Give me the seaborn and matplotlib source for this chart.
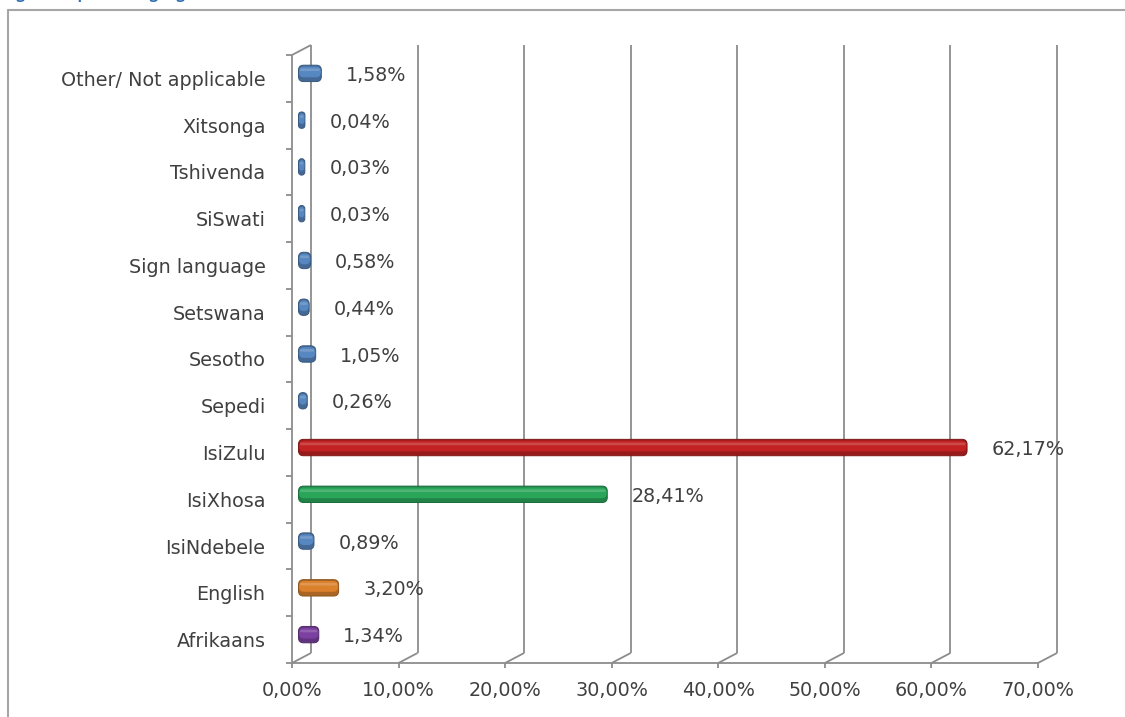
import matplotlib
matplotlib.use("Agg")
import matplotlib.pyplot as plt
from matplotlib.patches import FancyBboxPatch
from matplotlib.lines import Line2D
import seaborn as sns
import pandas as pd

# ---- data -------------------------------------------------------------
languages = ["Other/ Not applicable", "Xitsonga", "Tshivenda", "SiSwati",
             "Sign language", "Setswana", "Sesotho", "Sepedi", "IsiZulu",
             "IsiXhosa", "IsiNdebele", "English", "Afrikaans"]
shares = [1.58, 0.04, 0.03, 0.03, 0.58, 0.44, 1.05, 0.26, 62.17, 28.41,
          0.89, 3.20, 1.34]
value_labels = ["1,58%", "0,04%", "0,03%", "0,03%", "0,58%", "0,44%",
                "1,05%", "0,26%", "62,17%", "28,41%", "0,89%", "3,20%",
                "1,34%"]
tick_values = [0, 10, 20, 30, 40, 50, 60, 70]
tick_labels = ["0,00%", "10,00%", "20,00%", "30,00%", "40,00%", "50,00%",
               "60,00%", "70,00%"]
bar_colors = ["#4585d2", "#4585d2", "#4585d2", "#4585d2", "#4585d2",
              "#4585d2", "#4585d2", "#4585d2", "#dc0808", "#14bb56",
              "#4585d2", "#f8800f", "#8030b0"]
title_text = "Figure 4: Spoken language"

df = pd.DataFrame({"language": languages, "share": shares})
palette = dict(zip(languages, bar_colors))

# ---- style ------------------------------------------------------------
sns.set_theme(style="white")
plt.rcParams["font.family"] = ["DejaVu Sans"]
text_color = "#404040"
grid_color = "#8c8c8c"
fs = 13.8

W, H = 1125, 717
fig = plt.figure(figsize=(W / 100, H / 100), dpi=100)
fig.patch.set_facecolor("white")

# front plane of the 3-D plot area (pixels: x 292..1038, y 55..663)
L, R, T, B = 292, 1038, 55, 663
ax = fig.add_axes([L / W, (H - B) / H, (R - L) / W, (B - T) / H])
ax.set_facecolor("none")

sns.barplot(data=df, x="share", y="language", hue="language",
            palette=palette, order=languages, dodge=False, legend=False,
            width=0.35, ax=ax)

xmax = 70
n = len(languages)
ax.set_xlim(0, xmax)
ax.set_ylim(n - 0.5, -0.5)
for s in ax.spines.values():
    s.set_visible(False)

# data units per pixel
px_x = xmax / (R - L)
px_y = n / (B - T)
aspect = px_y / px_x

# depth of the 3-D box (back wall shifted right and up)
depth_dx, depth_dy = 19 * px_x, -10 * px_y
ytop, ybot = -0.5, n - 0.5

kw = dict(color=grid_color, lw=1.3, clip_on=False, solid_capstyle="butt")
for v in tick_values:
    # back wall verticals (left wall edge + gridlines)
    ax.plot([v + depth_dx, v + depth_dx], [ytop + depth_dy, ybot + depth_dy],
            zorder=0.5, **kw)
    # floor connectors
    ax.plot([v, v + depth_dx], [ybot, ybot + depth_dy], zorder=0.5, **kw)
    # ticks below the front floor edge
    ax.plot([v, v], [ybot, ybot + 5 * px_y], zorder=0.5, **kw)
# front left axis and top connector
ax.plot([0, 0], [ytop, ybot], zorder=0.6, **kw)
ax.plot([0, depth_dx], [ytop, ytop + depth_dy], zorder=0.6, **kw)
# front floor edge
ax.plot([0, xmax], [ybot, ybot], zorder=0.6, **kw)
# category boundary ticks on the left
for k in range(n + 1):
    yb = k - 0.5
    ax.plot([-6 * px_x, 0], [yb, yb], zorder=0.6, **kw)


def shade(c, f):
    r, g, b = matplotlib.colors.to_rgb(c)
    return (r * f, g * f, b * f)


def tint(c, f):
    r, g, b = matplotlib.colors.to_rgb(c)
    return (r + (1 - r) * f, g + (1 - g) * f, b + (1 - b) * f)


# rounded, cylinder-like bars drawn at mid depth
cap = 3 * px_x
mid_dx, mid_dy = depth_dx / 2, depth_dy / 2
for p in list(ax.patches):
    x0, y0 = p.get_x(), p.get_y()
    w, h = p.get_width(), p.get_height()
    fc = p.get_facecolor()
    p.set_visible(False)
    bx, by = x0 + mid_dx - cap, y0 + mid_dy
    bw = w + 2 * cap
    r = min(5 * px_x, bw / 2, (h / aspect) / 2)
    body = FancyBboxPatch((bx, by), bw, h,
                          boxstyle=f"round,pad=0,rounding_size={r}",
                          mutation_aspect=aspect, facecolor=shade(fc, 0.78),
                          edgecolor=shade(fc, 0.65), lw=0.7,
                          clip_on=False, zorder=2)
    ax.add_patch(body)
    # main face
    hm = h * 0.66
    rm = min(r, (hm / aspect) / 2)
    face = FancyBboxPatch((bx + 0.5 * px_x, by + h * 0.08), bw - 1.0 * px_x, hm,
                          boxstyle=f"round,pad=0,rounding_size={rm}",
                          mutation_aspect=aspect, facecolor=fc,
                          edgecolor="none", clip_on=False, zorder=2.1)
    ax.add_patch(face)
    # soft highlight
    hh = h * 0.16
    rh = min(r, (hh / aspect) / 2, max(bw / 2 - 1.5 * px_x, 0))
    hl = FancyBboxPatch((bx + 1.5 * px_x, by + h * 0.2), max(bw - 3 * px_x, 0), hh,
                        boxstyle=f"round,pad=0,rounding_size={rh}",
                        mutation_aspect=aspect, facecolor=tint(fc, 0.25),
                        edgecolor="none", alpha=0.7, clip_on=False, zorder=2.2)
    ax.add_patch(hl)

# value labels
for i, (v, lab) in enumerate(zip(shares, value_labels)):
    ax.text(v + 37 * px_x, i - 3 * px_y, lab, ha="left", va="center",
            fontsize=fs, color=text_color, zorder=3)

# axis labels
ax.set_yticks(range(n), languages)
ax.set_xticks(tick_values, tick_labels)
ax.tick_params(axis="y", length=0, pad=19, labelsize=fs, labelcolor=text_color)
ax.tick_params(axis="x", length=0, pad=13, labelsize=fs, labelcolor=text_color)
ax.set_xlabel("")
ax.set_ylabel("")

# outer frame (left and top edges of the figure box)
fig.add_artist(Line2D([8 / W, 8 / W], [0, 1 - 10 / H], color="#a6a6a6", lw=1.5))
fig.add_artist(Line2D([8 / W, 1], [1 - 10 / H, 1 - 10 / H], color="#a6a6a6", lw=1.5))

# caption, cut by the top edge of the figure
fig.text(4 / W, 1 + 1 / H, title_text, ha="left", va="baseline",
         fontsize=10.5, fontweight="bold", color="#2f6fb5",
         family="Open Sans")

fig.savefig("out.png", dpi=100, facecolor="white")
